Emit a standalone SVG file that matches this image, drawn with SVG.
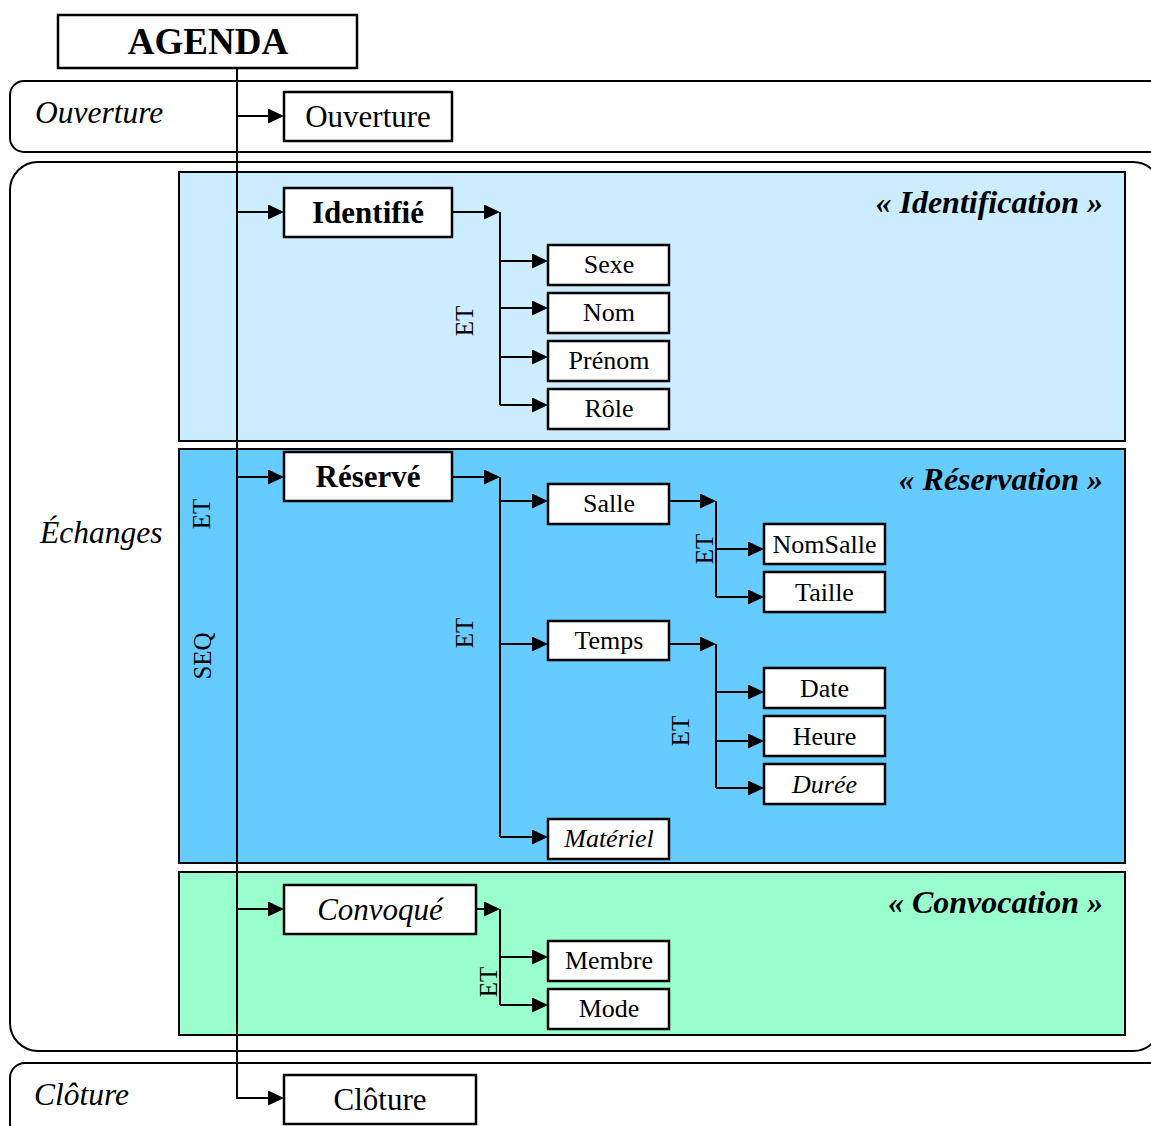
<svg xmlns="http://www.w3.org/2000/svg" width="1151" height="1126" viewBox="0 0 1151 1126">
<defs>
<style>
.lane{fill:#fff;stroke:#000;stroke-width:2}
.panel{stroke:#000;stroke-width:2}
.box{fill:#fff;stroke:#000;stroke-width:2.5}
.c{fill:none;stroke:#000;stroke-width:2;marker-end:url(#ah)}
.l{fill:none;stroke:#000;stroke-width:2}
text{font-family:"Liberation Serif","Times New Roman",serif;fill:#000}
.big{font-size:31px;text-anchor:middle}
.sm{font-size:26px;text-anchor:middle}
.op{font-size:25px;text-anchor:middle}
.side{font-size:31.5px;font-style:italic}
.title{font-size:32px;font-style:italic;font-weight:bold;text-anchor:end}
.b{font-weight:bold}
.i{font-style:italic}
</style>
<marker id="ah" markerUnits="userSpaceOnUse" markerWidth="16" markerHeight="15" refX="8" refY="7.5" orient="auto"><path d="M0,0 L16,7.5 L0,15 Z" fill="#000"/></marker>
</defs>

<g id="lanes">
<rect class="lane" x="10" y="81" width="1170" height="71" rx="14"/>
<rect class="lane" x="10" y="162" width="1151" height="889" rx="28"/>
<rect class="lane" x="10" y="1063" width="1170" height="100" rx="15"/>
<text class="side" x="35" y="123">Ouverture</text>
<text class="side" x="40" y="543">Échanges</text>
<text class="side" x="34" y="1105">Clôture</text>
</g>

<g id="panels">
<rect class="panel" x="179" y="172" width="946" height="269" fill="#CCECFF"/>
<rect class="panel" x="179" y="449" width="946" height="414" fill="#66CCFF"/>
<rect class="panel" x="179" y="872" width="946" height="163" fill="#99FFCC"/>
<text class="title" x="1103" y="213">« Identification »</text>
<text class="title" x="1103" y="490">« Réservation »</text>
<text class="title" x="1103" y="913">« Convocation »</text>
</g>

<g id="operators">
<text class="op" transform="translate(210,514) rotate(-90)">ET</text>
<text class="op" transform="translate(211,656) rotate(-90)">SEQ</text>
<text class="op" transform="translate(473,321) rotate(-90)">ET</text>
<text class="op" transform="translate(473,633) rotate(-90)">ET</text>
<text class="op" transform="translate(713,549) rotate(-90)">ET</text>
<text class="op" transform="translate(689,731) rotate(-90)">ET</text>
<text class="op" transform="translate(497,982) rotate(-90)">ET</text>
</g>

<g id="connectors">
<path class="c" d="M237,68 V1098 H276"/>
<path class="c" d="M237,116 H276"/>
<path class="c" d="M237,212 H276"/>
<path class="c" d="M237,477 H276"/>
<path class="c" d="M237,909 H276"/>

<path class="c" d="M452,212 H492"/>
<path class="l" d="M500,212 V405"/>
<path class="c" d="M500,261 H540"/>
<path class="c" d="M500,308 H540"/>
<path class="c" d="M500,357 H540"/>
<path class="c" d="M500,405 H540"/>

<path class="c" d="M452,477 H492"/>
<path class="l" d="M500,477 V837"/>
<path class="c" d="M500,501 H540"/>
<path class="c" d="M500,644 H540"/>
<path class="c" d="M500,837 H540"/>

<path class="c" d="M669,501 H708"/>
<path class="l" d="M716,501 V597"/>
<path class="c" d="M716,549 H756"/>
<path class="c" d="M716,597 H756"/>

<path class="c" d="M669,644 H708"/>
<path class="l" d="M716,644 V788"/>
<path class="c" d="M716,692 H756"/>
<path class="c" d="M716,741 H756"/>
<path class="c" d="M716,788 H756"/>

<path class="c" d="M476,909 H492"/>
<path class="l" d="M500,909 V1005"/>
<path class="c" d="M500,957 H540"/>
<path class="c" d="M500,1005 H540"/>
</g>

<g id="agenda"><rect class="box" x="58" y="15" width="299" height="53"/><text class="b" x="208" y="54" font-size="37" text-anchor="middle">AGENDA</text></g>
<g id="ouverture"><rect class="box" x="284" y="92" width="168" height="49"/><text class="big" x="368" y="127">Ouverture</text></g>
<g id="identifie"><rect class="box" x="284" y="188" width="168" height="49"/><text class="big b" x="368" y="223">Identifié</text></g>
<g id="sexe"><rect class="box" x="548" y="245" width="121" height="40"/><text class="sm" x="609" y="273">Sexe</text></g>
<g id="nom"><rect class="box" x="548" y="293" width="121" height="40"/><text class="sm" x="609" y="321">Nom</text></g>
<g id="prenom"><rect class="box" x="548" y="341" width="121" height="40"/><text class="sm" x="609" y="369">Prénom</text></g>
<g id="role"><rect class="box" x="548" y="389" width="121" height="40"/><text class="sm" x="609" y="417">Rôle</text></g>
<g id="reserve"><rect class="box" x="284" y="452" width="168" height="49"/><text class="big b" x="368" y="487">Réservé</text></g>
<g id="salle"><rect class="box" x="548" y="484" width="121" height="40"/><text class="sm" x="609" y="512">Salle</text></g>
<g id="temps"><rect class="box" x="548" y="621" width="121" height="39"/><text class="sm" x="609" y="649">Temps</text></g>
<g id="materiel"><rect class="box" x="548" y="819" width="121" height="40"/><text class="sm i" x="609" y="847">Matériel</text></g>
<g id="nomsalle"><rect class="box" x="764" y="524" width="121" height="40"/><text class="sm" x="824.5" y="552.5">NomSalle</text></g>
<g id="taille"><rect class="box" x="764" y="572" width="121" height="40"/><text class="sm" x="824.5" y="600.5">Taille</text></g>
<g id="date"><rect class="box" x="764" y="668" width="121" height="40"/><text class="sm" x="824.5" y="696.5">Date</text></g>
<g id="heure"><rect class="box" x="764" y="716" width="121" height="40"/><text class="sm" x="824.5" y="744.5">Heure</text></g>
<g id="duree"><rect class="box" x="764" y="764" width="121" height="40"/><text class="sm i" x="824.5" y="792.5">Durée</text></g>
<g id="convoque"><rect class="box" x="284" y="885" width="192" height="49"/><text class="big i" x="380" y="920">Convoqué</text></g>
<g id="membre"><rect class="box" x="548" y="941" width="121" height="40"/><text class="sm" x="609" y="969">Membre</text></g>
<g id="mode"><rect class="box" x="548" y="989" width="121" height="40"/><text class="sm" x="609" y="1017">Mode</text></g>
<g id="cloture"><rect class="box" x="284" y="1075" width="192" height="49"/><text class="big" x="380" y="1110">Clôture</text></g>
</svg>
